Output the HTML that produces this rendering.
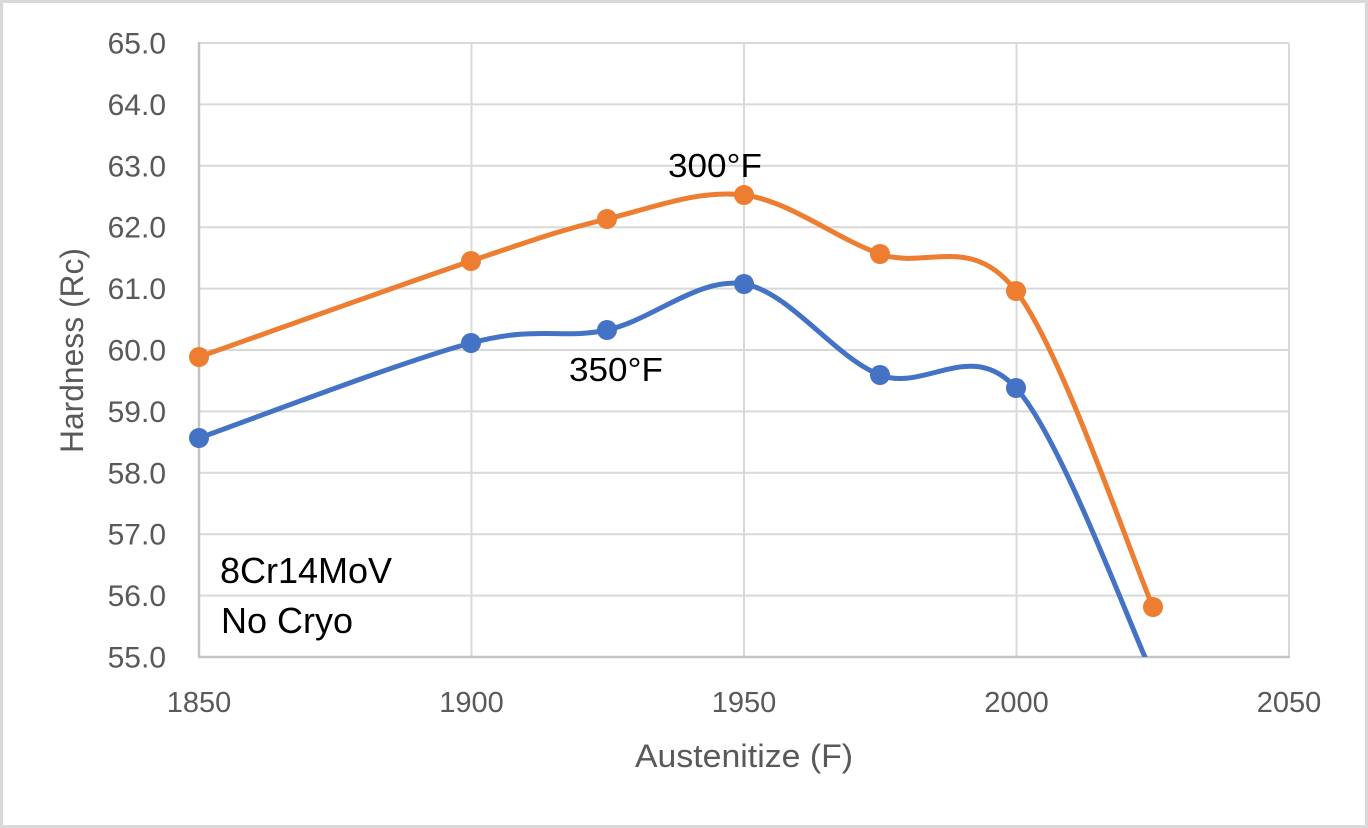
<!DOCTYPE html>
<html>
<head>
<meta charset="utf-8">
<style>
  html,body{margin:0;padding:0;background:#fff;}
  svg{display:block;}
  text{font-family:"Liberation Sans", Arial, sans-serif;}
</style>
</head>
<body>
<svg width="1368" height="828" viewBox="0 0 1368 828" xmlns="http://www.w3.org/2000/svg">
  <rect x="0" y="0" width="1368" height="828" fill="#fff"/>
  <rect x="1.5" y="1.5" width="1365" height="825" fill="none" stroke="#d9d9d9" stroke-width="3"/>
  <defs>
    <clipPath id="plot"><rect x="199" y="43" width="1090" height="614"/></clipPath>
  </defs>
  <!-- horizontal gridlines -->
  <g stroke="#d9d9d9" stroke-width="2">
    <line x1="199" y1="43" x2="1289" y2="43"/>
    <line x1="199" y1="104.4" x2="1289" y2="104.4"/>
    <line x1="199" y1="165.8" x2="1289" y2="165.8"/>
    <line x1="199" y1="227.2" x2="1289" y2="227.2"/>
    <line x1="199" y1="288.6" x2="1289" y2="288.6"/>
    <line x1="199" y1="350" x2="1289" y2="350"/>
    <line x1="199" y1="411.4" x2="1289" y2="411.4"/>
    <line x1="199" y1="472.8" x2="1289" y2="472.8"/>
    <line x1="199" y1="534.2" x2="1289" y2="534.2"/>
    <line x1="199" y1="595.6" x2="1289" y2="595.6"/>
    <line x1="471.5" y1="43" x2="471.5" y2="657"/>
    <line x1="744" y1="43" x2="744" y2="657"/>
    <line x1="1016.5" y1="43" x2="1016.5" y2="657"/>
    <line x1="1289" y1="43" x2="1289" y2="657"/>
  </g>
  <!-- axes -->
  <g stroke="#c4c4c4" stroke-width="2.5">
    <line x1="199" y1="42" x2="199" y2="657"/>
    <line x1="198" y1="657" x2="1290" y2="657"/>
  </g>
  <!-- y tick labels -->
  <g fill="#595959" font-size="30" text-anchor="end">
    <text x="166" y="53.5">65.0</text>
    <text x="166" y="114.9">64.0</text>
    <text x="166" y="176.3">63.0</text>
    <text x="166" y="237.7">62.0</text>
    <text x="166" y="299.1">61.0</text>
    <text x="166" y="360.5">60.0</text>
    <text x="166" y="421.9">59.0</text>
    <text x="166" y="483.3">58.0</text>
    <text x="166" y="544.7">57.0</text>
    <text x="166" y="606.1">56.0</text>
    <text x="166" y="667.5">55.0</text>
  </g>
  <!-- x tick labels -->
  <g fill="#595959" font-size="29" text-anchor="middle">
    <text x="199" y="712">1850</text>
    <text x="471.5" y="712">1900</text>
    <text x="744" y="712">1950</text>
    <text x="1016.5" y="712">2000</text>
    <text x="1289" y="712">2050</text>
  </g>
  <!-- axis titles -->
  <text x="744" y="767" fill="#595959" font-size="32" text-anchor="middle" textLength="218" lengthAdjust="spacingAndGlyphs">Austenitize (F)</text>
  <text transform="translate(83,350.5) rotate(-90)" fill="#595959" font-size="32" text-anchor="middle" textLength="205" lengthAdjust="spacingAndGlyphs">Hardness (Rc)</text>

  <g clip-path="url(#plot)">
    <!-- orange series (300F) -->
    <path fill="none" stroke="#ED7D31" stroke-width="5" stroke-linecap="round" stroke-linejoin="round"
      d="M199,357 C244.3,341 403,284 471,261 C539,238 561.5,230 607,219 C652.5,208 698.5,189.2 744,195 C789.5,200.8 834.7,238 880,254 C925.3,270 970.5,232.2 1016,291 C1061.5,349.8 1130.2,554.3 1153,607"/>
    <!-- blue series (350F) -->
    <path fill="none" stroke="#4472C4" stroke-width="5" stroke-linecap="round" stroke-linejoin="round"
      d="M199,438 C244.3,422.2 403,361 471,343 C539,325 561.5,339.8 607,330 C652.5,320.2 698.5,276.5 744,284 C789.5,291.5 834.7,357.7 880,375 C925.3,392.3 970.5,337.95 1016,388 C1061.5,438.05 1130.2,627.4 1153,675.3"/>
  </g>
  <!-- markers -->
  <g fill="#ED7D31">
    <circle cx="199" cy="357" r="10"/>
    <circle cx="471" cy="261" r="10"/>
    <circle cx="607" cy="219" r="10"/>
    <circle cx="744" cy="195" r="10"/>
    <circle cx="880" cy="254" r="10"/>
    <circle cx="1016" cy="291" r="10"/>
    <circle cx="1153" cy="607" r="10"/>
  </g>
  <g fill="#4472C4">
    <circle cx="199" cy="438" r="10"/>
    <circle cx="471" cy="343" r="10"/>
    <circle cx="607" cy="330" r="10"/>
    <circle cx="744" cy="284" r="10"/>
    <circle cx="880" cy="375" r="10"/>
    <circle cx="1016" cy="388" r="10"/>
  </g>

  <!-- annotations -->
  <text x="668" y="177" fill="#000" font-size="33" textLength="94" lengthAdjust="spacingAndGlyphs">300°F</text>
  <text x="569" y="381" fill="#000" font-size="33" textLength="94" lengthAdjust="spacingAndGlyphs">350°F</text>
  <text x="220" y="583" fill="#000" font-size="36">8Cr14MoV</text>
  <text x="221" y="633" fill="#000" font-size="36">No Cryo</text>
</svg>
</body>
</html>
